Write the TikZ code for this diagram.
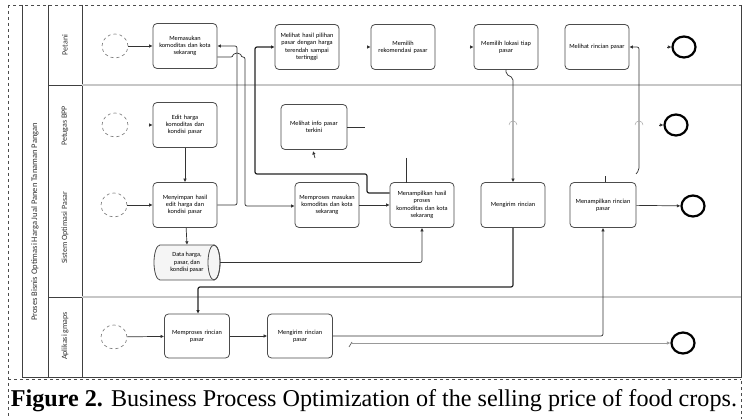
\documentclass[tikz,border=0pt]{standalone}
\usepackage{fontspec}
\setmainfont{Liberation Serif}
\newfontfamily\diag{Carlito}
\usetikzlibrary{shapes.geometric,arrows.meta}
\begin{document}
\begin{tikzpicture}[x=1pt,y=-1pt,
  task/.style={draw=black!70, line width=0.8pt, rounded corners=4pt, minimum width=64pt, minimum height=45pt, align=center, font=\diag\fontsize{6.3}{7.3}\selectfont, inner sep=1pt, text width=60pt},
  startev/.style={draw=black!55, dashed, line width=0.6pt, ellipse, minimum width=26pt, minimum height=24pt, inner sep=0pt},
  endev/.style={draw=black, line width=2.2pt, ellipse, minimum width=23pt, minimum height=21pt, inner sep=0pt},
  flow/.style={draw=black!80, line width=0.7pt, -{Latex[length=3.5pt,width=3.5pt]}, rounded corners=2pt},
  heavy/.style={draw=black!85, line width=1.2pt, rounded corners=2pt},
  stub/.style={draw=black!80, line width=0.7pt},
  hop/.style={draw=black!35, line width=0.5pt},
  lanelabel/.style={rotate=90, font=\diag\fontsize{8}{9}\selectfont, text=black!80},
  frame/.style={draw=black!75, line width=0.8pt},
  lanesep/.style={draw=black!22, line width=1.2pt},
  dbshape/.style={draw=black!70, line width=0.8pt, fill=black!4}
]
\useasboundingbox (0,0) rectangle (744,419);
\fill[white] (0,0) rectangle (744,419);

% outer dashed border and caption divider
\draw[black!70, dashed, line width=0.8pt] (8,5) rectangle (741,419);
\draw[black!70, dashed, line width=0.8pt] (8,379) -- (741,379);

% pool frame
\draw[frame] (22,5) -- (22,377) -- (741,377) -- (741,5);
\draw[frame] (48,5) -- (48,377);
\draw[frame] (82,5) -- (82,377);
\draw[frame] (48,85) -- (82,85);
\draw[frame] (48,297) -- (82,297);
\draw[lanesep] (82,85) -- (741,85);
\draw[lanesep] (82,297) -- (741,297);

% labels
\node[lanelabel, font=\diag\fontsize{8.5}{10}\selectfont] (pool) at (35,222) {Proses Bisnis Optimasi Harga Jual Panen Tanaman Pangan};
\node[lanelabel] (l1) at (65,45) {Petani};
\node[lanelabel] (l2) at (65,126) {Petugas BPP};
\node[lanelabel] (l3) at (65,228) {Sistem Optimasi Pasar};
\node[lanelabel] (l4) at (65,336) {Aplikasi gmaps};

% Petani lane
\node[startev] (s1) at (115,46) {};
\node[task] (t1) at (185,46) {Memasukan\\komoditas dan kota\\sekarang};
\node[task] (t2) at (307,47) {Melihat hasil pilihan\\pasar dengan harga\\terendah sampai\\tertinggi};
\node[task] (t3) at (403,47) {Memilih\\rekomendasi pasar};
\node[task] (t4) at (506,47) {Memilih lokasi tiap\\pasar};
\node[task] (t5) at (597,47) {Melihat rincian pasar};
\node[endev] (e1) at (684,47) {};

% Petugas lane
\node[startev] (s2) at (115,125) {};
\node[task] (t6) at (185,125) {Edit harga\\komoditas dan\\kondisi pasar};
\node[task, minimum width=66pt] (t7) at (314,127) {Melihat info pasar\\terkini};
\node[endev] (e2) at (676,125) {};

% Sistem lane
\node[startev] (s3) at (114,205) {};
\node[task] (t8) at (185,205) {Menyimpan hasil\\edit harga dan\\kondisi pasar};
% data store (horizontal cylinder)
\draw[dbshape] (214,245) -- (160,245) arc[start angle=270, end angle=90, x radius=6, y radius=17.5] -- (214,280) arc[start angle=90, end angle=-90, x radius=6, y radius=17.5];
\draw[dbshape, fill=none] (214,262.5) ellipse[x radius=6, y radius=17.5];
\node[minimum width=66pt, minimum height=35pt, align=center, inner sep=1pt, font=\diag\fontsize{6.3}{7.3}\selectfont] (db) at (187,262.5) {Data harga,\\pasar, dan\\kondisi pasar};
\node[task] (t9) at (327,205) {Memproses masukan\\komoditas dan kota\\sekarang};
\node[task] (t10) at (422,205) {Menampilkan hasil\\proses\\komoditas dan kota\\sekarang};
\node[task] (t11) at (513,205) {Mengirim rincian};
\node[task, minimum width=66pt] (t12) at (603,205) {Menampilkan rincian\\pasar};
\node[endev] (e3) at (693,206) {};

% Aplikasi gmaps lane
\node[startev] (s4) at (114,337) {};
\node[task, minimum width=65pt, minimum height=44pt] (t13) at (197,336) {Memproses rincian\\pasar};
\node[task, minimum width=65pt, minimum height=44pt] (t14) at (300,336) {Mengirim rincian\\pasar};
\node[endev] (e4) at (683,343) {};

% ---- connectors ----
\draw[flow] (s1) -- (t1);
\draw[flow] ([xshift=-4pt]t6.west) -- (t6.west);
\draw[flow] (t6) -- (t8);
\draw[flow] (s3) -- (t8);
\draw[flow] (t8) -- (db.north);
\draw[flow] (t9) -- (t10);
\draw[flow] (db.east) -| (t10.south);
\draw[flow] (t8.east) -- (237,205) |- (t1.east);
\draw[flow] ([yshift=-11pt]t1.east) -- (233,57) arc[start angle=180, end angle=360, radius=4] -- (245,57) |- ([yshift=-1pt]t9.west);
\draw[heavy, -{Latex[length=3.5pt,width=3.5pt]}] ([yshift=12pt]t10.west) -- (367,193) |- (255,174) |- (t2.west);
\draw[flow] ([xshift=-4pt]t3.west) -- (t3.west);
\draw[flow] ([xshift=-4pt]t4.west) -- (t4.west);
\draw[flow] ([xshift=-4pt]e1.west) -- (e1.west);
\draw[flow] ([xshift=-4pt]e2.west) -- (e2.west);
\draw[flow] (t4.south) -- (506,74) -- (513,78) -- (t11.north);
\draw[hop] (509,125) arc[start angle=180, end angle=360, radius=4];
\draw[flow] (636,174) -- (639,170) |- (t5.east);
\draw[hop] (635,125) arc[start angle=180, end angle=360, radius=4];
\draw[stub] ([xshift=2pt]t12.north) -- (605,176);
\draw[stub] (t7.east) -- (365,127);
\draw[stub] (406,158) -- (406,183);
\draw[flow] (315,158) -- (313,151);
\draw[heavy, -{Latex[length=3.5pt,width=3.5pt]}] (t11.south) |- (198,287) -- (t13.north -| 198,0);
\draw[flow] (t12) -- (e3);
\draw[flow] (s4) -- (t13);
\draw[flow] (t13) -- (t14);
\draw[flow] (t14.east) -| (t12.south);
\draw[flow, draw=black!40] (352,343) -- (e4.west);
\draw[stub, draw=black!60] (349,347) -- (352,342);

% caption
\node[anchor=center] (cap) at (374,401) {\resizebox{726pt}{!}{\fontsize{19}{22}\selectfont\textbf{Figure 2.} Business Process Optimization of the selling price of food crops.}};
\end{tikzpicture}
\end{document}
